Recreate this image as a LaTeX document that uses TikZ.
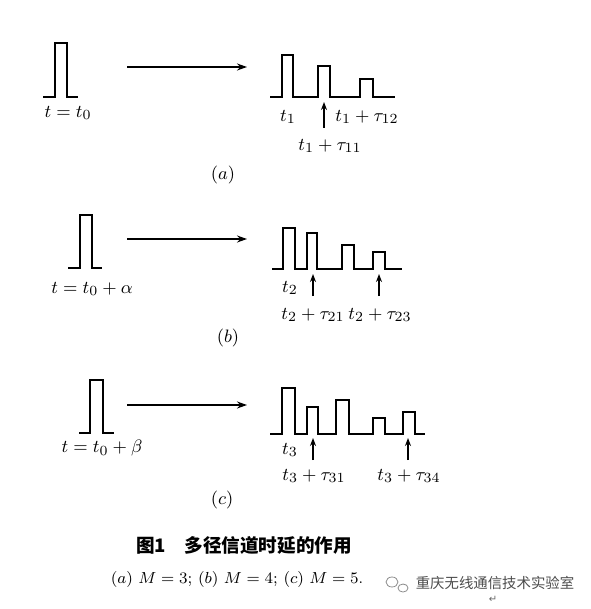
\documentclass[tikz,border=0pt]{standalone}
\usepackage{fontspec}
\newfontfamily\cjk{Noto Sans CJK SC}
\newfontfamily\djv{DejaVu Sans}
\usetikzlibrary{arrows.meta}
\begin{document}
\begin{tikzpicture}[x=0.5pt,y=-0.5pt,
  pulse/.style={line width=0.65pt, line join=miter},
  bigarrow/.style={line width=1pt, -{Stealth[length=5pt,width=3.5pt]}},
  uparrow/.style={line width=0.7pt, -{Stealth[length=4pt,width=3pt]}},
  lbl/.style={inner sep=0pt, font=\fontsize{9.4}{11}\selectfont},
  captxt/.style={inner sep=0pt}]
\useasboundingbox (0,0) rectangle (590,609);
% ---------- (a) ----------
\draw[pulse] (43,97) -- (55,97) -- (55,43) -- (67,43) -- (67,97) -- (78,97);
\node[lbl] (ina) at (68,113) {$t=t_0$};
\coordinate (a1) at (127,67); \coordinate (a2) at (247,67);
\draw[bigarrow] (a1) -- (a2);
\draw[pulse] (270,97) -- (282,97) -- (282,55) -- (293,55) -- (293,97)
  -- (318,97) -- (318,66) -- (330,66) -- (330,97)
  -- (360,97) -- (360,79) -- (373,79) -- (373,97) -- (395,97);
\node[lbl] (ta1) at (288,117) {$t_1$};
\node[lbl] (ta12) at (367,117) {$t_1+\tau_{12}$};
\node[lbl] (ta11) at (330,146) {$t_1+\tau_{11}$};
\coordinate (ua1) at (324,128); \coordinate (ua1t) at (324,102);
\draw[uparrow, line width=1pt] (ua1) -- (ua1t);
\node[lbl] (capa) at (223,175) {$(a)$};
% ---------- (b) ----------
\draw[pulse] (68,268) -- (80,268) -- (80,215) -- (92,215) -- (92,268) -- (102,268);
\node[lbl] (inb) at (92,289) {$t=t_0+\alpha$};
\coordinate (b1) at (127,239); \coordinate (b2) at (247,239);
\draw[bigarrow] (b1) -- (b2);
\draw[pulse] (272,269) -- (283,269) -- (283,228) -- (295,228) -- (295,269)
  -- (307,269) -- (307,233) -- (317,233) -- (317,269)
  -- (342,269) -- (342,245) -- (354,245) -- (354,269)
  -- (373,269) -- (373,252) -- (385,252) -- (385,269) -- (402,269);
\node[lbl] (tb2) at (290,288) {$t_2$};
\node[lbl] (tb21) at (313,315) {$t_2+\tau_{21}$};
\node[lbl] (tb23) at (380,315) {$t_2+\tau_{23}$};
\coordinate (ub1) at (313,296); \coordinate (ub1t) at (313,274);
\coordinate (ub2) at (379,296); \coordinate (ub2t) at (379,274);
\draw[uparrow] (ub1) -- (ub1t);
\draw[uparrow] (ub2) -- (ub2t);
\node[lbl] (capb) at (228,338) {$(b)$};
% ---------- (c) ----------
\draw[pulse] (79,433) -- (90,433) -- (90,380) -- (103,380) -- (103,433) -- (114,433);
\node[lbl] (inc) at (102,448) {$t=t_0+\beta$};
\coordinate (c1) at (127,405); \coordinate (c2) at (247,405);
\draw[bigarrow] (c1) -- (c2);
\draw[pulse] (270,434) -- (282,434) -- (282,388) -- (295,388) -- (295,434)
  -- (307,434) -- (307,407) -- (318,407) -- (318,434)
  -- (336,434) -- (336,400) -- (349,400) -- (349,434)
  -- (373,434) -- (373,418) -- (385,418) -- (385,434)
  -- (403,434) -- (403,412) -- (415,412) -- (415,434) -- (425,434);
\node[lbl] (tc3) at (290,450) {$t_3$};
\node[lbl] (tc31) at (314,476) {$t_3+\tau_{31}$};
\node[lbl] (tc34) at (409,476) {$t_3+\tau_{34}$};
\coordinate (uc1) at (313,460); \coordinate (uc1t) at (313,438);
\coordinate (uc2) at (408,460); \coordinate (uc2t) at (408,438);
\draw[uparrow] (uc1) -- (uc1t);
\draw[uparrow] (uc2) -- (uc2t);
\node[lbl] (capc) at (222,500) {$(c)$};
% ---------- caption ----------
\node[captxt, font=\cjk\bfseries\fontsize{9.3}{11}\selectfont] (title) at (244,545) {图1\hspace{1em}多径信道时延的作用};
\node[captxt, font=\fontsize{7.6}{9}\selectfont] (sub) at (237,579) {$(a)\ M=3;\,(b)\ M=4;\,(c)\ M=5$.};
% ---------- watermark ----------
\node[captxt, font=\cjk\fontsize{7.2}{9}\selectfont, text=black!70] (wm) at (495,583) {重庆无线通信技术实验室};
\draw[black!45, line width=0.4pt] (392,582) ellipse (6 and 5);
\draw[black!45, line width=0.4pt] (403,588) ellipse (5 and 4);
\node[captxt, font=\djv\fontsize{5}{6}\selectfont, text=black!60] (ret) at (493,599) {↵};
\end{tikzpicture}
\end{document}
